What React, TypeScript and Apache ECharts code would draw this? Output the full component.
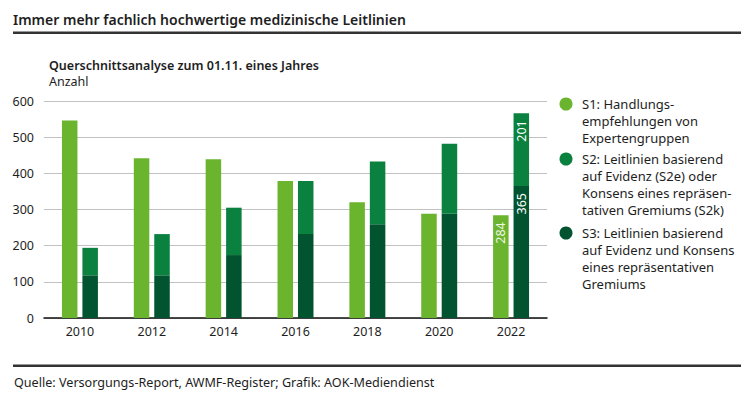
import React, { useEffect, useRef } from "react";
import * as echarts from "echarts";

const years = ["2010", "2012", "2014", "2016", "2018", "2020", "2022"];
const s1Values = [546, 442, 439, 379, 320, 288, 284];
const s2Values = [76, 114, 131, 147, 174, 194, 201];
const s3Values = [118, 118, 174, 232, 259, 288, 365];
const yTicks = [0, 100, 200, 300, 400, 500, 600];

const legendItems = [
  { lines: ["S1: Handlungs-", "empfehlungen von", "Expertengruppen"], color: "#6ab42e" },
  { lines: ["S2: Leitlinien basierend", "auf Evidenz (S2e) oder", "Konsens eines repräsen-", "tativen Gremiums (S2k)"], color: "#0a813e" },
  { lines: ["S3: Leitlinien basierend", "auf Evidenz und Konsens", "eines repräsentativen", "Gremiums"], color: "#02532f" },
];

const FONT = "'Noto Sans', 'Open Sans', sans-serif";
const TEXT = "#1e1e1e";

export default function App() {
  const ref = useRef<HTMLDivElement>(null);
  useEffect(() => {
    if (!ref.current) return;
    const chart = echarts.init(ref.current, null, { renderer: "svg" });
    const last = years.length - 1;
    const withLabel = (vals: number[], color: string) =>
      vals.map((v, i) =>
        i === last
          ? {
              value: v,
              label: {
                show: true,
                position: "insideTop",
                rotate: 90,
                align: "right",
                verticalAlign: "middle",
                distance: 7,
                color,
                fontFamily: FONT,
                fontSize: 12.5,
              },
            }
          : v
      );

    const graphics: any[] = [
      { type: "text", x: 13, y: 19, style: { text: "Immer mehr fachlich hochwertige medizinische Leitlinien", font: `600 14px ${FONT}`, fill: TEXT, verticalAlign: "middle" } },
      { type: "rect", shape: { x: 13, y: 31.5, width: 728, height: 2.5 }, style: { fill: "#333" } },
      { type: "text", x: 49, y: 65, style: { text: "Querschnittsanalyse zum 01.11. eines Jahres", font: `600 12.5px ${FONT}`, fill: TEXT, verticalAlign: "middle" } },
      { type: "text", x: 49, y: 81, style: { text: "Anzahl", font: `400 12.5px ${FONT}`, fill: TEXT, verticalAlign: "middle" } },
      { type: "rect", shape: { x: 13, y: 364.5, width: 728, height: 2.5 }, style: { fill: "#333" } },
      { type: "text", x: 14, y: 382, style: { text: "Quelle: Versorgungs-Report, AWMF-Register; Grafik: AOK-Mediendienst", font: `400 12.6px ${FONT}`, fill: TEXT, verticalAlign: "middle" } },
    ];
    const legendTops = [104, 159, 233];
    const LH = 17;
    legendItems.forEach((item, idx) => {
      const y0 = legendTops[idx];
      graphics.push({ type: "circle", shape: { cx: 566, cy: y0, r: 6.5 }, style: { fill: item.color } });
      item.lines.forEach((ln, j) => {
        graphics.push({
          type: "text",
          x: 582,
          y: y0 + j * LH,
          style: { text: ln, font: `400 13px ${FONT}`, fill: TEXT, verticalAlign: "middle" },
        });
      });
    });

    chart.setOption({
      animation: false,
      grid: { left: 44, right: 203, top: 101, bottom: 81, containLabel: false },
      xAxis: {
        type: "category",
        data: years,
        axisLine: { lineStyle: { color: "#111", width: 1.5 } },
        axisTick: { show: false },
        axisLabel: { color: TEXT, fontFamily: FONT, fontSize: 12.5, margin: 7 },
      },
      yAxis: {
        type: "value",
        min: yTicks[0],
        max: yTicks[yTicks.length - 1],
        interval: 100,
        axisLine: { show: false },
        axisTick: { show: false },
        axisLabel: { color: TEXT, fontFamily: FONT, fontSize: 12.5, margin: 10 },
        splitLine: { lineStyle: { color: "#c2c2c2", width: 1 } },
      },
      series: [
        { name: "S1", type: "bar", stack: "a", barWidth: 15.5, barGap: "32%", itemStyle: { color: legendItems[0].color }, data: withLabel(s1Values, "#eef6e4") },
        { name: "S3", type: "bar", stack: "b", barWidth: 15.5, barGap: "32%", itemStyle: { color: legendItems[2].color }, data: withLabel(s3Values, "#ffffff") },
        { name: "S2", type: "bar", stack: "b", barWidth: 15.5, barGap: "32%", itemStyle: { color: legendItems[1].color }, data: withLabel(s2Values, "#ffffff") },
      ],
      graphic: graphics,
    });
    return () => chart.dispose();
  }, []);
  return <div ref={ref} style={{ width: 750, height: 399, position: "absolute", left: 0, top: 0 }} />;
}
